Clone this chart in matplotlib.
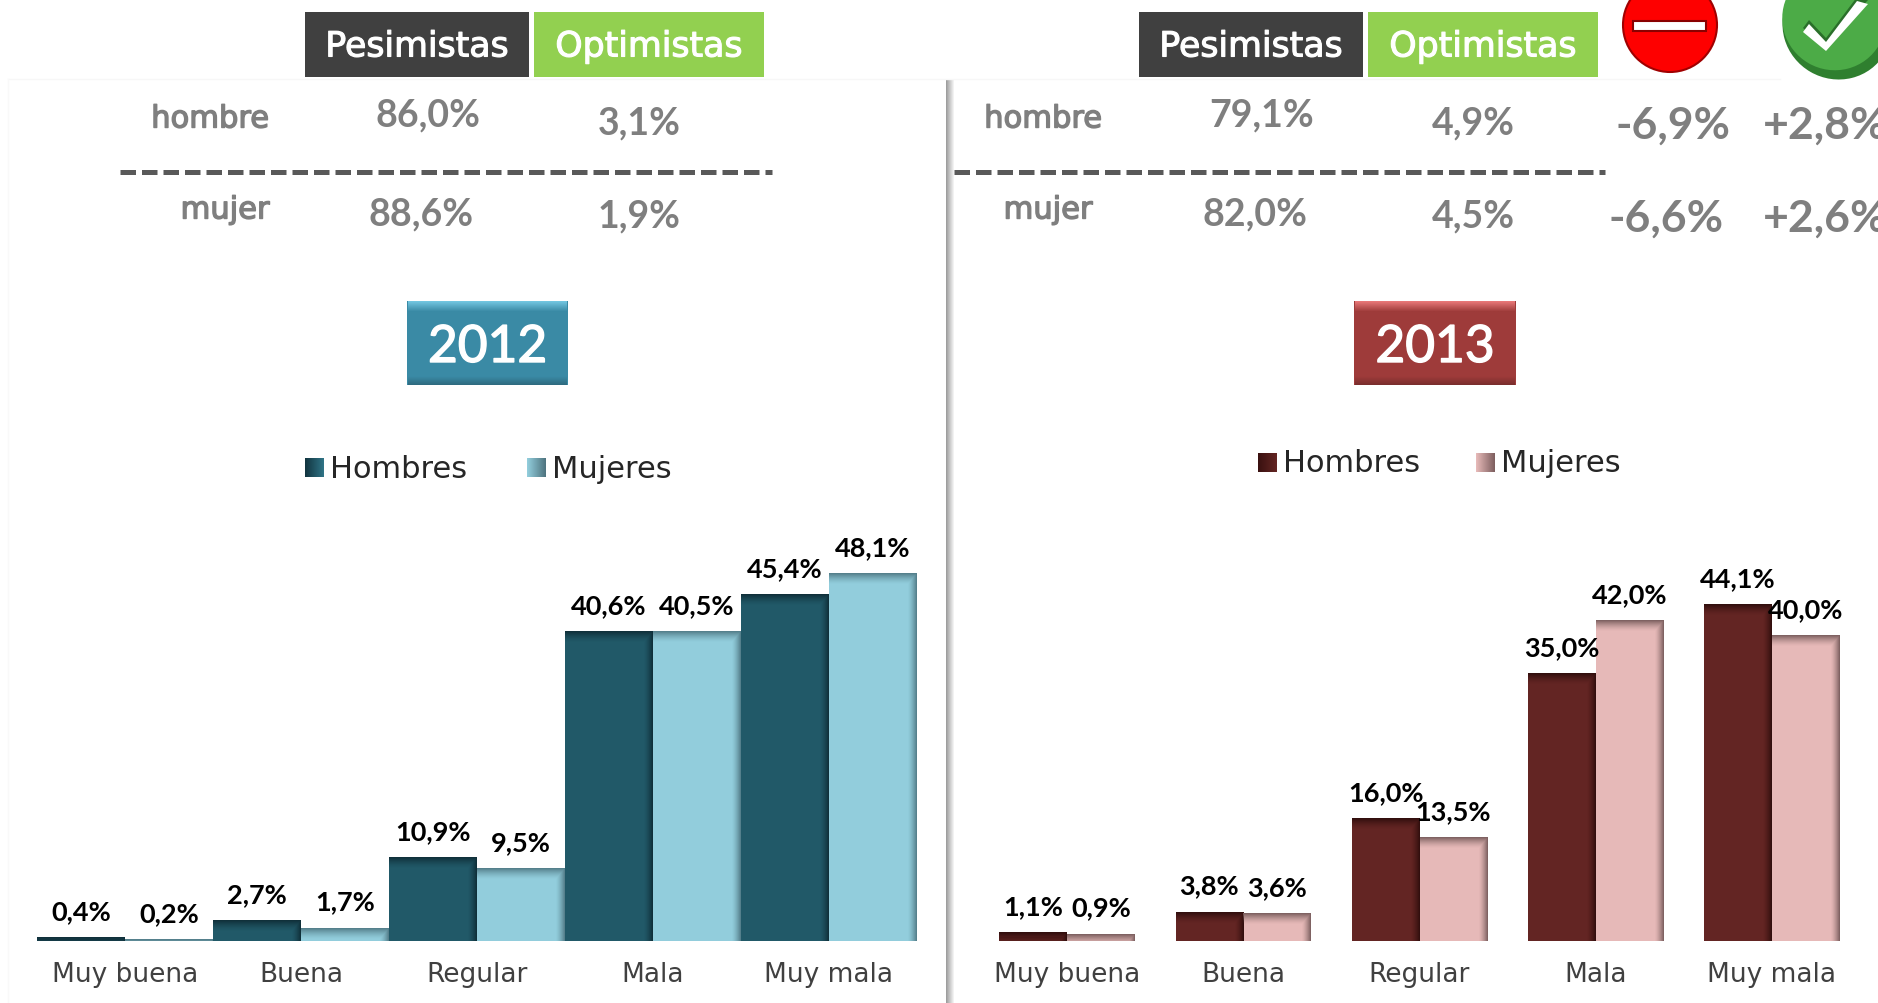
import numpy as np
import matplotlib
matplotlib.use('Agg')
import matplotlib.pyplot as plt
import matplotlib.patches as mpatches
import matplotlib.patheffects as pe
from matplotlib.colors import to_rgb

W, H = 1878, 1004
PX_PER_UNIT = 7.63

CATEGORIES = ['Muy buena', 'Buena', 'Regular', 'Mala', 'Muy mala']
HOMBRES_2012 = [0.4, 2.7, 10.9, 40.6, 45.4]
MUJERES_2012 = [0.2, 1.7, 9.5, 40.5, 48.1]
HOMBRES_2013 = [1.1, 3.8, 16.0, 35.0, 44.1]
MUJERES_2013 = [0.9, 3.6, 13.5, 42.0, 40.0]

PESIMISTAS_2012 = [86.0, 88.6]
OPTIMISTAS_2012 = [3.1, 1.9]
PESIMISTAS_2013 = [79.1, 82.0]
OPTIMISTAS_2013 = [4.9, 4.5]
DIF_PESIMISTAS = [-6.9, -6.6]
DIF_OPTIMISTAS = [2.8, 2.6]

GOTHIC = 'DejaVu Sans'
CALIBRI = 'Lato'
GREY = '#7f7f7f'


def pct(v, signed=False):
    s = f'{v:+.1f}%' if signed else f'{v:.1f}%'
    return s.replace('.', ',')


def stroke(color, w=0.6):
    return [pe.withStroke(linewidth=w, foreground=color)]


def shade(ax, x0, x1, h, color, top_px=11, right_px=9):
    # inner shadow along the top and right edge of a bar
    ppx = ax.get_position().width * W / (ax.get_xlim()[1] - ax.get_xlim()[0])
    w_px = max(int(round((x1 - x0) * ppx)), 1)
    h_px = max(int(round(h * PX_PER_UNIT)), 1)
    yy, xx = np.mgrid[0:h_px, 0:w_px]
    a_top = np.clip(1 - yy / top_px, 0, 1) ** 1.5
    a_right = np.clip(1 - (w_px - 1 - xx) / right_px, 0, 1) ** 1.5
    rgba = np.zeros((h_px, w_px, 4))
    rgba[..., :3] = to_rgb(color)
    rgba[..., 3] = np.maximum(a_top, a_right)
    ax.imshow(rgba, extent=(x0, x1, 0, h), aspect='auto', interpolation='nearest', zorder=3)


def bar_panel(rect, vals_a, vals_b, width, colors, shadows):
    left, right, base = rect
    ax = fig.add_axes([left / W, (H - base) / H, (right - left) / W, 480 / H])
    ax.patch.set_alpha(0)
    x = np.arange(len(CATEGORIES))
    ax.set_xlim(-0.5, 4.5)
    ax.set_ylim(0, 480 / PX_PER_UNIT)
    for vals, off, c, sc in ((vals_a, -width / 2, colors[0], shadows[0]),
                             (vals_b, width / 2, colors[1], shadows[1])):
        bars = ax.bar(x + off, vals, width, color=c, zorder=2)
        for b, v in zip(bars, vals):
            shade(ax, b.get_x(), b.get_x() + width, v, sc)
            ax.annotate(pct(v), (b.get_x() + width / 2, v), xytext=(0, 13), textcoords='offset points',
                        ha='center', va='baseline', fontsize=19.5, fontweight='bold',
                        family=CALIBRI, color='black', zorder=5, annotation_clip=False)
    ax.set_xlim(-0.5, 4.5)
    ax.set_ylim(0, 480 / PX_PER_UNIT)
    ax.set_xticks(x)
    ax.set_xticklabels(CATEGORIES, fontsize=19, family=GOTHIC, color='#404040')
    ax.tick_params(axis='x', length=0, pad=15)
    ax.set_yticks([])
    for s in ax.spines.values():
        s.set_visible(False)
    return ax


def box(x0, x1, y0, y1, color, text, txt_size=25):
    bg.add_patch(mpatches.Rectangle((x0, y0), x1 - x0, y1 - y0, color=color, lw=0))
    bg.text((x0 + x1) / 2, (y0 + y1) / 2 + 2, text, color='white', fontsize=txt_size,
            family=GOTHIC, ha='center', va='center', path_effects=stroke('white', 0.8))


def year_box(x0, x1, y0, y1, text, face, light, dark):
    d = 9
    bg.add_patch(mpatches.Rectangle((x0, y0), x1 - x0, y1 - y0, color=face, lw=0))
    g = np.linspace(0, 1, 11)[:, None, None]
    top = (1 - g) * np.array(to_rgb(light)) + g * np.array(to_rgb(face))
    bg.imshow(top, extent=(x0 + 1, x1 - 1, y0 + 11, y0), aspect='auto', zorder=2)
    bot = (1 - g) * np.array(to_rgb(face)) + g * np.array(to_rgb(dark))
    bg.imshow(bot, extent=(x0 + 1, x1 - 1, y1, y1 - d), aspect='auto', zorder=2)
    bg.text((x0 + x1) / 2, (y0 + y1) / 2 + 5, text, color='white', fontsize=37, zorder=3,
            family=CALIBRI, ha='center', va='center', path_effects=stroke('white', 1.0))


def legend_sq(x, y, c0, c1):
    g = np.linspace(0, 1, 19)[None, :, None]
    rgb = (1 - g) * np.array(to_rgb(c0)) + g * np.array(to_rgb(c1))
    bg.imshow(rgb, extent=(x, x + 19, y + 19, y), aspect='auto', zorder=2)


fig = plt.figure(figsize=(W / 100, H / 100), dpi=100)
bg = fig.add_axes([0, 0, 1, 1])
bg.axis('off')

# panel edges
bg.plot([8, 1780], [79.5, 79.5], color='#f7f7f7', lw=1)
bg.plot([8, 8], [79.5, 1004], color='#f9f9f9', lw=1)
edge = np.linspace(0, 1, 9)[None, :, None] * np.ones((1, 9, 3))
bg.imshow(0.62 + 0.38 * edge, extent=(946, 955, 1004, 80), aspect='auto', zorder=1)

# headers
box(305, 529, 13, 78, '#404040', 'Pesimistas')
box(534, 764, 13, 78, '#92d050', 'Optimistas')
box(1139, 1363, 13, 78, '#404040', 'Pesimistas')
box(1368, 1598, 13, 78, '#92d050', 'Optimistas')

# table text
tkw = dict(color=GREY, family=GOTHIC, ha='center', va='center', fontsize=22,
           path_effects=stroke(GREY, 1.0))
bg.text(210, 120, 'hombre', **tkw)
bg.text(225, 211, 'mujer', **tkw)
bg.text(1043, 120, 'hombre', **tkw)
bg.text(1048, 211, 'mujer', **tkw)
for x_top, x_bot, ys, vals in ((428, 421, (115, 214), PESIMISTAS_2012), (639, 639, (123, 216), OPTIMISTAS_2012),
                               (1262, 1255, (115, 214), PESIMISTAS_2013), (1473, 1473, (123, 216), OPTIMISTAS_2013)):
    for x, y, v in zip((x_top, x_bot), ys, vals):
        bg.text(x, y, pct(v), fontsize=27, family=CALIBRI, color=GREY, ha='center', va='center', fontweight='bold')
for y, a, b, xa in zip((126, 219), DIF_PESIMISTAS, DIF_OPTIMISTAS, (1673, 1666)):
    bg.text(xa, y, pct(a), fontsize=32, family=CALIBRI, color=GREY, fontweight='bold', ha='center', va='center')
    bg.text(1763, y, pct(b, signed=True), fontsize=32, family=CALIBRI, color=GREY, fontweight='bold',
            ha='left', va='center')

# dashed separators
for x0, x1 in ((120, 772), (954, 1605)):
    bg.plot([x0, x1], [173, 173], color='#595959', lw=3.6, solid_capstyle='butt',
            dash_capstyle='butt', linestyle=(0, (3.1, 1.2)))

year_box(407, 568, 302, 386, '2012', '#3a8aa5', '#72c6e0', '#2f6b80')
year_box(1354, 1516, 302, 386, '2013', '#9e3b3a', '#e87878', '#7a2e2d')

# legends
legend_sq(305, 459, '#123540', '#2f7385')
legend_sq(527, 459, '#92cddc', '#4f7580')
legend_sq(1258, 454, '#3a1110', '#632523')
legend_sq(1476, 454, '#e6b9b8', '#7f6060')
lkw = dict(fontsize=22, family=GOTHIC, color='#262626', ha='left', va='center')
bg.text(330, 470, 'Hombres', **lkw)
bg.text(552, 470, 'Mujeres', **lkw)
bg.text(1283, 464, 'Hombres', **lkw)
bg.text(1501, 464, 'Mujeres', **lkw)

# icons
bg.add_patch(mpatches.Circle((1670, 26), 47, fc='#fe0000', ec='#a00000', lw=1.5))
bg.add_patch(mpatches.Rectangle((1633, 22), 73, 10, fc='white', ec='#8a0000', lw=1.5))
bg.add_patch(mpatches.Ellipse((1837, 27), 110, 106, angle=30, fc='#2f7f2f', lw=0))
bg.add_patch(mpatches.Ellipse((1834, 20), 104, 102, angle=30, fc='#4cab47', lw=0))
check = [(1803, 33), (1826, 52), (1868, 5), (1857, 2), (1826, 43), (1809, 25)]
bg.add_patch(mpatches.Polygon([(a, b - 4) for a, b in check], fc='#2a6f2a', lw=0))
bg.add_patch(mpatches.Polygon(check, fc='white', lw=0))

bg.set_xlim(0, W)
bg.set_ylim(H, 0)

bar_panel((37, 917, 941.5), HOMBRES_2012, MUJERES_2012, 0.5,
          ('#215968', '#92cddc'), ('#10303a', '#55808c'))
bar_panel((979, 1860, 941.5), HOMBRES_2013, MUJERES_2013, 0.3846,
          ('#632523', '#e6b9b8'), ('#320f0e', '#7f6262'))

fig.savefig('out.png', dpi=100)
